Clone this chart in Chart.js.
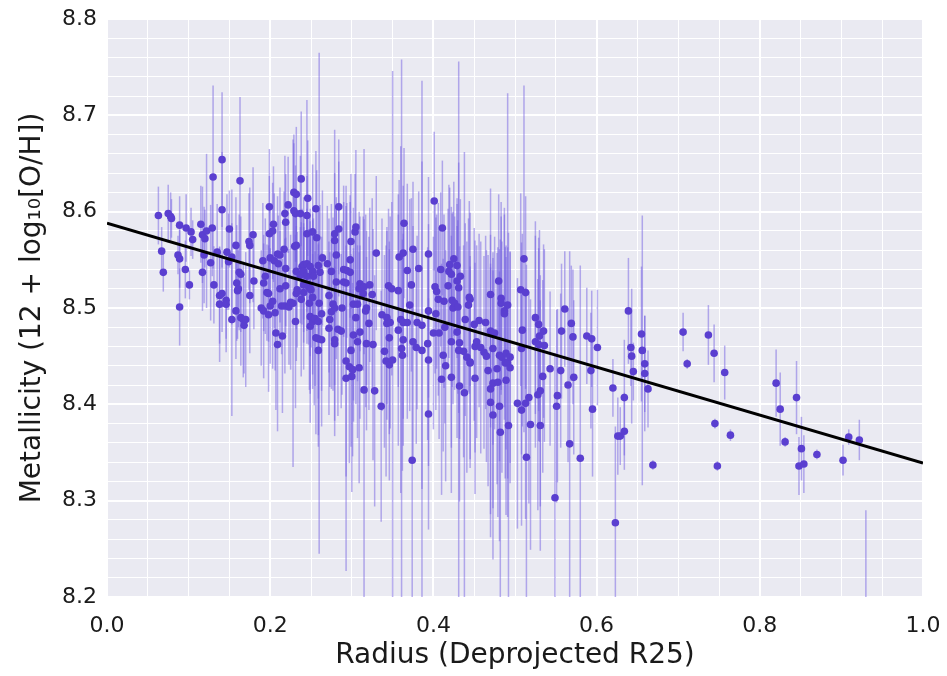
<!DOCTYPE html>
<html>
<head>
<meta charset="utf-8">
<script src="https://cdn.jsdelivr.net/npm/chart.js@4.4.0/dist/chart.umd.min.js"></script>
<style>
  body { margin: 0; background: #fff; }
  #wrap { width: 947px; height: 676px; }
</style>
</head>
<body>
<div id="wrap"><canvas id="metal-chart"></canvas></div>
<script>
// data: deprojected radius, metallicity and its error
const radius = [
  0.063, 0.067, 0.069, 0.075, 0.078, 0.079, 0.087, 0.089, 0.089, 0.089, 0.096, 0.097, 0.101, 0.103, 0.105,
  0.115, 0.117, 0.117, 0.119, 0.120, 0.122, 0.127, 0.129, 0.130, 0.131, 0.135, 0.138, 0.138, 0.141, 0.141,
  0.141, 0.146, 0.146, 0.147, 0.149, 0.150, 0.153, 0.153, 0.158, 0.158, 0.159, 0.160, 0.161, 0.162, 0.163,
  0.164, 0.164, 0.167, 0.168, 0.170, 0.174, 0.175, 0.175, 0.179, 0.180, 0.189, 0.191, 0.192, 0.192, 0.194,
  0.196, 0.198, 0.198, 0.199, 0.199, 0.200, 0.200, 0.203, 0.203, 0.204, 0.205, 0.206, 0.207, 0.209, 0.209,
  0.210, 0.212, 0.212, 0.214, 0.215, 0.217, 0.218, 0.218, 0.219, 0.219, 0.219, 0.222, 0.223, 0.225, 0.228,
  0.229, 0.229, 0.230, 0.231, 0.231, 0.232, 0.232, 0.232, 0.232, 0.233, 0.237, 0.237, 0.238, 0.238, 0.239,
  0.241, 0.241, 0.241, 0.241, 0.245, 0.245, 0.245, 0.245, 0.246, 0.247, 0.248, 0.249, 0.249, 0.249, 0.249,
  0.250, 0.252, 0.252, 0.252, 0.252, 0.253, 0.254, 0.255, 0.256, 0.256, 0.257, 0.259, 0.259, 0.259, 0.259,
  0.260, 0.261, 0.263, 0.263, 0.264, 0.270, 0.272, 0.272, 0.273, 0.275, 0.275, 0.277, 0.279, 0.279, 0.279,
  0.279, 0.279, 0.281, 0.281, 0.283, 0.284, 0.284, 0.287, 0.288, 0.290, 0.290, 0.293, 0.293, 0.293, 0.294,
  0.297, 0.298, 0.298, 0.299, 0.299, 0.300, 0.301, 0.302, 0.302, 0.304, 0.305, 0.305, 0.307, 0.307, 0.309,
  0.309, 0.310, 0.310, 0.314, 0.315, 0.315, 0.317, 0.318, 0.318, 0.321, 0.322, 0.325, 0.326, 0.328, 0.330,
  0.336, 0.337, 0.340, 0.342, 0.343, 0.343, 0.345, 0.346, 0.346, 0.347, 0.349, 0.350, 0.357, 0.357, 0.358,
  0.360, 0.361, 0.362, 0.363, 0.363, 0.363, 0.364, 0.368, 0.368, 0.371, 0.373, 0.374, 0.375, 0.375, 0.379,
  0.380, 0.382, 0.386, 0.386, 0.393, 0.394, 0.394, 0.394, 0.394, 0.400, 0.401, 0.402, 0.403, 0.404, 0.406,
  0.407, 0.409, 0.410, 0.411, 0.412, 0.413, 0.414, 0.415, 0.418, 0.419, 0.420, 0.422, 0.422, 0.422, 0.423,
  0.424, 0.425, 0.426, 0.429, 0.429, 0.429, 0.430, 0.431, 0.431, 0.432, 0.432, 0.433, 0.437, 0.438, 0.439,
  0.441, 0.443, 0.444, 0.445, 0.445, 0.445, 0.450, 0.451, 0.451, 0.453, 0.456, 0.458, 0.462, 0.464, 0.465,
  0.467, 0.470, 0.470, 0.470, 0.470, 0.473, 0.473, 0.473, 0.475, 0.478, 0.479, 0.480, 0.481, 0.481, 0.482,
  0.483, 0.483, 0.484, 0.487, 0.487, 0.488, 0.489, 0.489, 0.491, 0.491, 0.492, 0.494, 0.494, 0.503, 0.507,
  0.508, 0.508, 0.509, 0.511, 0.513, 0.513, 0.514, 0.517, 0.519, 0.525, 0.525, 0.528, 0.529, 0.529, 0.530,
  0.531, 0.531, 0.534, 0.535, 0.536, 0.543, 0.549, 0.551, 0.552, 0.556, 0.557, 0.561, 0.565, 0.567, 0.569,
  0.571, 0.572, 0.580, 0.588, 0.593, 0.594, 0.595, 0.601, 0.620, 0.623, 0.626, 0.629, 0.634, 0.634, 0.639,
  0.642, 0.643, 0.645, 0.655, 0.656, 0.659, 0.659, 0.663, 0.669, 0.706, 0.711, 0.737, 0.744, 0.745, 0.748,
  0.757, 0.764, 0.820, 0.825, 0.831, 0.845, 0.848, 0.851, 0.854, 0.870, 0.902, 0.909, 0.922, 0.930
]
const metallicity = [
  8.596, 8.559, 8.537, 8.598, 8.595, 8.593, 8.555, 8.551, 8.586, 8.501, 8.540, 8.583, 8.524, 8.579, 8.571,
  8.587, 8.576, 8.537, 8.555, 8.572, 8.580, 8.547, 8.583, 8.636, 8.524, 8.558, 8.513, 8.504, 8.654, 8.602,
  8.515, 8.508, 8.504, 8.558, 8.548, 8.582, 8.553, 8.488, 8.565, 8.497, 8.526, 8.518, 8.520, 8.537, 8.632,
  8.535, 8.490, 8.488, 8.482, 8.488, 8.569, 8.565, 8.513, 8.576, 8.528, 8.500, 8.549, 8.526, 8.497, 8.533,
  8.516, 8.515, 8.493, 8.605, 8.577, 8.552, 8.502, 8.580, 8.507, 8.587, 8.549, 8.495, 8.474, 8.556, 8.462,
  8.546, 8.555, 8.520, 8.502, 8.471, 8.561, 8.598, 8.502, 8.589, 8.541, 8.523, 8.607, 8.501, 8.506, 8.505,
  8.601, 8.620, 8.564, 8.598, 8.486, 8.618, 8.565, 8.538, 8.515, 8.519, 8.598, 8.534, 8.634, 8.509, 8.543,
  8.545, 8.538, 8.524, 8.516, 8.596, 8.577, 8.546, 8.533, 8.614, 8.522, 8.505, 8.543, 8.520, 8.491, 8.481,
  8.519, 8.579, 8.538, 8.511, 8.486, 8.533, 8.489, 8.489, 8.603, 8.469, 8.573, 8.544, 8.486, 8.468, 8.456,
  8.505, 8.537, 8.494, 8.467, 8.552, 8.546, 8.513, 8.479, 8.488, 8.538, 8.496, 8.504, 8.577, 8.570, 8.500,
  8.467, 8.463, 8.555, 8.527, 8.478, 8.605, 8.582, 8.476, 8.500, 8.540, 8.527, 8.526, 8.445, 8.427, 8.539,
  8.439, 8.550, 8.537, 8.569, 8.456, 8.429, 8.436, 8.504, 8.472, 8.579, 8.584, 8.490, 8.504, 8.465, 8.520,
  8.438, 8.525, 8.475, 8.515, 8.522, 8.415, 8.497, 8.500, 8.463, 8.484, 8.524, 8.514, 8.462, 8.414, 8.557,
  8.398, 8.493, 8.455, 8.445, 8.490, 8.484, 8.523, 8.469, 8.441, 8.485, 8.520, 8.446, 8.518, 8.477, 8.553,
  8.488, 8.458, 8.451, 8.557, 8.485, 8.467, 8.588, 8.539, 8.485, 8.503, 8.524, 8.342, 8.561, 8.465, 8.459,
  8.485, 8.541, 8.482, 8.456, 8.463, 8.556, 8.497, 8.446, 8.390, 8.474, 8.611, 8.522, 8.494, 8.517, 8.509,
  8.474, 8.540, 8.426, 8.583, 8.451, 8.507, 8.480, 8.440, 8.523, 8.538, 8.545, 8.535, 8.465, 8.428, 8.508,
  8.500, 8.551, 8.505, 8.544, 8.528, 8.475, 8.501, 8.521, 8.456, 8.464, 8.419, 8.533, 8.455, 8.412, 8.488,
  8.449, 8.503, 8.511, 8.509, 8.444, 8.443, 8.483, 8.460, 8.427, 8.465, 8.487, 8.459, 8.454, 8.485, 8.450,
  8.435, 8.514, 8.476, 8.416, 8.402, 8.458, 8.422, 8.389, 8.474, 8.437, 8.423, 8.528, 8.451, 8.398, 8.371,
  8.510, 8.505, 8.449, 8.497, 8.494, 8.443, 8.453, 8.425, 8.503, 8.443, 8.378, 8.449, 8.438, 8.401, 8.519,
  8.458, 8.394, 8.477, 8.551, 8.516, 8.401, 8.345, 8.407, 8.379, 8.490, 8.465, 8.410, 8.483, 8.462, 8.471,
  8.414, 8.378, 8.429, 8.476, 8.461, 8.437, 8.303, 8.398, 8.409, 8.435, 8.476, 8.499, 8.420, 8.359, 8.484,
  8.470, 8.428, 8.344, 8.471, 8.435, 8.468, 8.395, 8.459, 8.417, 8.277, 8.367, 8.367, 8.407, 8.372, 8.497,
  8.459, 8.450, 8.434, 8.473, 8.456, 8.442, 8.432, 8.416, 8.337, 8.475, 8.442, 8.472, 8.453, 8.380, 8.336,
  8.433, 8.368, 8.422, 8.395, 8.361, 8.407, 8.336, 8.354, 8.338, 8.348, 8.342, 8.366, 8.363, 8.190
]
const metallicityErr = [
  0.03, 0.025, 0.02, 0.03, 0.025, 0.02, 0.02, 0.03, 0.03, 0.04, 0.03, 0.035, 0.015, 0.025, 0.02,
  0.04, 0.05, 0.04, 0.05, 0.03, 0.08, 0.06, 0.05, 0.095, 0.04, 0.05, 0.05, 0.06, 0.07, 0.06,
  0.04, 0.04, 0.05, 0.06, 0.05, 0.04, 0.07, 0.1, 0.05, 0.05, 0.06, 0.05, 0.04, 0.06, 0.087,
  0.06, 0.05, 0.06, 0.05, 0.07, 0.05, 0.06, 0.06, 0.07, 0.05, 0.06, 0.06, 0.05, 0.07, 0.06,
  0.05, 0.05, 0.08, 0.06, 0.06, 0.05, 0.06, 0.05, 0.07, 0.06, 0.07, 0.06, 0.08, 0.06, 0.09,
  0.05, 0.07, 0.06, 0.05, 0.08, 0.06, 0.06, 0.07, 0.05, 0.06, 0.05, 0.05, 0.06, 0.07, 0.17,
  0.07, 0.06, 0.06, 0.05, 0.09, 0.07, 0.05, 0.06, 0.07, 0.06, 0.06, 0.05, 0.07, 0.08, 0.06,
  0.07, 0.05, 0.06, 0.08, 0.12, 0.06, 0.05, 0.07, 0.06, 0.06, 0.09, 0.06, 0.07, 0.08, 0.1,
  0.06, 0.07, 0.06, 0.08, 0.07, 0.06, 0.09, 0.07, 0.06, 0.1, 0.07, 0.06, 0.08, 0.1, 0.1,
  0.26, 0.07, 0.08, 0.09, 0.07, 0.06, 0.08, 0.09, 0.07, 0.07, 0.08, 0.09, 0.108, 0.07, 0.08,
  0.1, 0.08, 0.06, 0.08, 0.09, 0.07, 0.07, 0.08, 0.09, 0.07, 0.1, 0.08, 0.12, 0.2, 0.07,
  0.1, 0.06, 0.08, 0.07, 0.1, 0.12, 0.09, 0.1, 0.09, 0.06, 0.08, 0.09, 0.08, 0.1, 0.08,
  0.12, 0.07, 0.09, 0.08, 0.07, 0.25, 0.1, 0.08, 0.09, 0.09, 0.08, 0.1, 0.12, 0.12, 0.08,
  0.12, 0.1, 0.1, 0.12, 0.09, 0.1, 0.08, 0.1, 0.12, 0.11, 0.09, 0.3, 0.1, 0.12, 0.08,
  0.18, 0.3, 0.12, 0.07, 0.1, 0.11, 0.078, 0.09, 0.1, 0.11, 0.09, 0.16, 0.07, 0.12, 0.1,
  0.09, 0.08, 0.17, 0.28, 0.1, 0.08, 0.09, 0.11, 0.12, 0.1, 0.072, 0.09, 0.1, 0.08, 0.1,
  0.11, 0.08, 0.12, 0.07, 0.1, 0.09, 0.1, 0.12, 0.08, 0.09, 0.08, 0.07, 0.11, 0.12, 0.09,
  0.1, 0.08, 0.09, 0.07, 0.08, 0.11, 0.09, 0.13, 0.3, 0.1, 0.12, 0.08, 0.11, 0.25, 0.1,
  0.12, 0.09, 0.1, 0.09, 0.11, 0.1, 0.1, 0.11, 0.12, 0.1, 0.09, 0.11, 0.1, 0.09, 0.11,
  0.12, 0.11, 0.1, 0.13, 0.14, 0.1, 0.13, 0.15, 0.1, 0.12, 0.14, 0.09, 0.11, 0.14, 0.2,
  0.1, 0.09, 0.12, 0.1, 0.11, 0.12, 0.1, 0.14, 0.22, 0.12, 0.2, 0.11, 0.12, 0.13, 0.1,
  0.11, 0.12, 0.1, 0.18, 0.1, 0.12, 0.2, 0.11, 0.13, 0.1, 0.11, 0.12, 0.09, 0.1, 0.11,
  0.12, 0.13, 0.1, 0.09, 0.1, 0.08, 0.15, 0.1, 0.09, 0.08, 0.07, 0.06, 0.08, 0.2, 0.06,
  0.07, 0.08, 0.2, 0.05, 0.06, 0.05, 0.07, 0.06, 0.03, 0.1, 0.04, 0.03, 0.06, 0.04, 0.055,
  0.04, 0.07, 0.03, 0.07, 0.14, 0.05, 0.06, 0.04, 0.005, 0.02, 0.005, 0.031, 0.03, 0.005, 0.005,
  0.028, 0.006, 0.035, 0.038, 0.005, 0.038, 0.03, 0.033, 0.03, 0.005, 0.016, 0.008, 0.021, 0.1
]

// straight-line fit drawn across the radius range
const fitRadius = [0.0, 1.0]
const fitMetallicity = [8.588, 8.339]

// axis ticks
const xMajorTicks = [0.0, 0.2, 0.4, 0.6, 0.8, 1.0]
const yMajorTicks = [8.2, 8.3, 8.4, 8.5, 8.6, 8.7, 8.8]

const scatterPoints = radius.map((r, i) => ({ x: r, y: metallicity[i], err: metallicityErr[i] }))
const fitPoints = fitRadius.map((r, i) => ({ x: r, y: fitMetallicity[i] }))

const isMajor = (v, list) => list.some((t) => Math.abs(t - v) < 1e-6)

// grey panel behind the plot
const panelBackground = {
  id: "panelBackground",
  beforeDraw(chart) {
    const { ctx, chartArea } = chart
    ctx.save()
    ctx.fillStyle = "#eaeaf2"
    ctx.fillRect(chartArea.left, chartArea.top, chartArea.right - chartArea.left, chartArea.bottom - chartArea.top)
    ctx.restore()
  },
}

// vertical error bars under the points
const errorBars = {
  id: "errorBars",
  beforeDatasetsDraw(chart) {
    const { ctx, chartArea, scales } = chart
    ctx.save()
    ctx.beginPath()
    ctx.rect(chartArea.left, chartArea.top, chartArea.right - chartArea.left, chartArea.bottom - chartArea.top)
    ctx.clip()
    ctx.strokeStyle = "rgba(115, 95, 225, 0.5)"
    ctx.lineWidth = 1.5
    scatterPoints.forEach((p) => {
      const x = scales.x.getPixelForValue(p.x)
      const y1 = scales.y.getPixelForValue(p.y - p.err)
      const y2 = scales.y.getPixelForValue(p.y + p.err)
      ctx.beginPath()
      ctx.moveTo(x, y1)
      ctx.lineTo(x, y2)
      ctx.stroke()
    })
    ctx.restore()
  },
}

const tickFont = { family: "DejaVu Sans", size: 22 }
const titleFont = { family: "DejaVu Sans", size: 28 }

let metalChart = new Chart(document.getElementById("metal-chart"), {
  type: "scatter",
  data: {
    datasets: [
      {
        type: "line",
        data: fitPoints,
        borderColor: "#000",
        borderWidth: 3,
        pointRadius: 0,
        fill: false,
        order: 0,
      },
      {
        data: scatterPoints,
        backgroundColor: "#5a3fd0",
        borderWidth: 0,
        pointRadius: 3.8,
        order: 1,
      },
    ],
  },
  options: {
    responsive: true,
    maintainAspectRatio: false,
    animation: false,
    layout: { padding: { top: 19, right: 24, left: 0, bottom: 0 } },
    scales: {
      x: {
        type: "linear",
        min: 0,
        max: 1,
        afterFit: (scale) => {
          scale.height = 79
          scale.paddingLeft = 0
          scale.paddingRight = 0
        },
        border: { display: false },
        grid: {
          drawTicks: false,
          color: "#ffffff",
          lineWidth: (c) => (isMajor(c.tick.value, xMajorTicks) ? 2 : 1),
        },
        ticks: {
          stepSize: 0.05,
          autoSkip: false,
          maxRotation: 0,
          padding: 16,
          color: "#1a1a1a",
          font: tickFont,
          callback: (v) => (isMajor(v, xMajorTicks) ? v.toFixed(1) : ""),
        },
        title: {
          display: true,
          text: "Radius (Deprojected R25)",
          color: "#1a1a1a",
          font: titleFont,
          padding: { top: 0, bottom: 3 },
        },
      },
      y: {
        type: "linear",
        min: 8.2,
        max: 8.8,
        afterFit: (scale) => {
          scale.width = 107
          scale.paddingTop = 0
          scale.paddingBottom = 0
        },
        border: { display: false },
        grid: {
          drawTicks: false,
          color: "#ffffff",
          lineWidth: (c) => (isMajor(c.tick.value, yMajorTicks) ? 2 : 1),
        },
        ticks: {
          stepSize: 0.02,
          autoSkip: false,
          padding: 10,
          color: "#1a1a1a",
          font: tickFont,
          callback: (v) => (isMajor(v, yMajorTicks) ? v.toFixed(1) : ""),
        },
        title: {
          display: true,
          text: "Metallicity (12 + log₁₀[O/H])",
          color: "#1a1a1a",
          font: titleFont,
          padding: { top: 16, bottom: 0 },
        },
      },
    },
    plugins: {
      legend: { display: false },
      tooltip: { enabled: false },
    },
  },
  plugins: [panelBackground, errorBars],
})
</script>
</body>
</html>
